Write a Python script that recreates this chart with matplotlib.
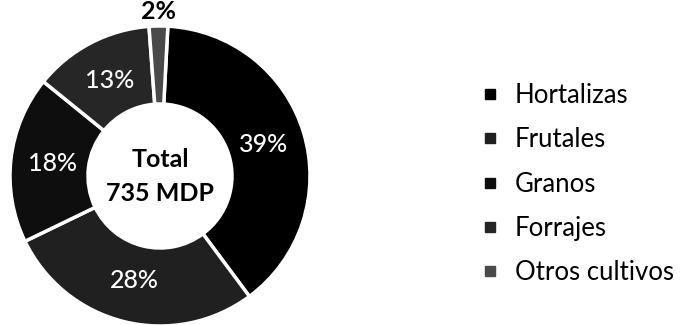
import matplotlib
matplotlib.use("Agg")
import matplotlib.pyplot as plt
from matplotlib.lines import Line2D
import numpy as np

categories = ["Hortalizas", "Frutales", "Granos", "Forrajes", "Otros cultivos"]
percentages = [39, 28, 18, 13, 2]
colors = ["#000000", "#202020", "#0e0e0e", "#262626", "#4a4a4a"]
center_lines = ["Total", "735 MDP"]

plt.rcParams['font.family'] = ['Lato', 'DejaVu Sans']

fig = plt.figure(figsize=(6.94, 3.25), dpi=100)
W, H = 694, 325
cx, cy, R = 160, 176, 150
ax = fig.add_axes([(cx - R) / W, (H - cy - R) / H, 2 * R / W, 2 * R / H])

wedges, _ = ax.pie(percentages, colors=colors, startangle=87, counterclock=False,
                   radius=1, wedgeprops=dict(width=0.52, edgecolor='white', linewidth=2.5))
ax.set_xlim(-1, 1)
ax.set_ylim(-1, 1)
ax.set_aspect('equal')
ax.axis('off')

for w, p in zip(wedges, percentages):
    ang = np.deg2rad((w.theta1 + w.theta2) / 2)
    if p < 5:
        r, col = 1.10, 'black'
    else:
        r, col = 0.72, 'white'
    ax.text(r * np.cos(ang), r * np.sin(ang), f"{p}%", ha='center', va='center',
            color=col, fontsize=18, fontweight='medium' if p >= 5 else 'bold',
            clip_on=False)

ax.text(0, 0.11, center_lines[0], ha='center', va='center', fontsize=18, fontweight='bold')
ax.text(0, -0.12, center_lines[1], ha='center', va='center', fontsize=18, fontweight='bold')

handles = [Line2D([0], [0], marker='s', linestyle='none', markersize=7,
                  markerfacecolor=c, markeredgecolor=c) for c in colors]
fig.legend(handles, categories, loc='center left', bbox_to_anchor=(484 / W, 1 - 184 / H),
           frameon=False, fontsize=18.5, handlelength=0.45, handletextpad=0.75,
           labelspacing=0.75, borderaxespad=0, borderpad=0)

fig.savefig("out.png", dpi=100)
